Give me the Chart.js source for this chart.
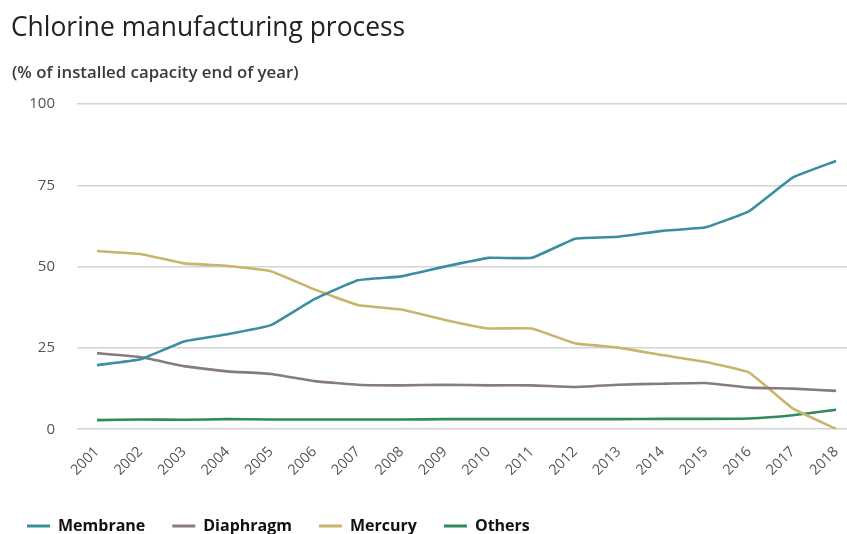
<!DOCTYPE html>
<html>
<head>
<meta charset="utf-8">
<script src="https://cdn.jsdelivr.net/npm/chart.js@4/dist/chart.umd.min.js"></script>
<style>
  html, body { margin: 0; padding: 0; background: #fff; }
  #wrap { position: relative; width: 847px; height: 534px; overflow: hidden; }
  #title { position: absolute; left: 11px; top: 8px; font-family: "Open Sans", sans-serif; font-size: 26.4px; color: #222; white-space: nowrap; line-height: 36px; }
  #subtitle { position: absolute; left: 12px; top: 60px; font-family: "Open Sans", sans-serif; font-size: 16.8px; font-weight: 600; color: #3a3a3a; white-space: nowrap; line-height: 24px; }
  canvas { position: absolute; left: 0; top: 0; }
</style>
</head>
<body>
<div id="wrap">
  <canvas id="c" width="847" height="534"></canvas>
  <div id="title">Chlorine manufacturing process</div>
  <div id="subtitle">(% of installed capacity end of year)</div>
</div>
<script>
const years = [2001,2002,2003,2004,2005,2006,2007,2008,2009,2010,2011,2012,2013,2014,2015,2016,2017,2018];
const membrane  = [19.7,21.5,27.0,29.2,32.0,40.0,45.8,47.0,50.0,52.7,52.7,58.6,59.2,61.0,62.1,67.1,77.4,82.5];
const diaphragm = [23.4,22.2,19.4,17.8,17.0,14.8,13.7,13.5,13.7,13.5,13.5,13.0,13.7,14.0,14.2,12.8,12.5,11.8];
const mercury   = [54.8,53.9,51.0,50.2,48.6,43.0,38.2,36.8,33.6,31.0,31.0,26.4,25.1,22.8,20.7,17.4,6.4,0.1];
const others    = [2.8,3.0,2.9,3.1,3.0,3.0,3.0,3.0,3.1,3.1,3.1,3.1,3.1,3.2,3.2,3.3,4.3,6.0];
const yTicks = [0,25,50,75,100];
const seriesNames = ["Membrane","Diaphragm","Mercury","Others"];
const seriesColors = ["#3b8e9f","#877b7b","#c9b46c","#2f8a5c"];

const toXY = arr => arr.map((v,i) => ({x: years[i], y: v}));
const allData = [membrane, diaphragm, mercury, others];

new Chart(document.getElementById('c'), {
  type: 'line',
  data: {
    datasets: allData.map((d,i) => ({
      label: seriesNames[i],
      data: toXY(d),
      borderColor: seriesColors[i],
      backgroundColor: seriesColors[i],
      borderWidth: 2.6,
      pointRadius: 0,
      tension: 0.1,
      fill: false
    }))
  },
  options: {
    responsive: false,
    animation: false,
    layout: { padding: { top: 104, left: 0, right: 0, bottom: -10 } },
    scales: {
      x: {
        type: 'linear',
        min: 2000.54,
        max: 2018.25,
        afterBuildTicks: s => { s.ticks = years.map(v => ({value: v})); },
        afterFit: s => { s.paddingLeft = 0; s.paddingRight = 0; s.height = s.height - 2; },
        grid: { display: false, drawTicks: false },
        border: { display: false },
        ticks: {
          callback: v => String(v),
          minRotation: 45, maxRotation: 45,
          padding: 14,
          color: '#555',
          font: { family: 'Open Sans', size: 14.5 }
        }
      },
      y: {
        min: 0, max: 100,
        afterBuildTicks: s => { s.ticks = yTicks.map(v => ({value: v})); },
        afterFit: s => { s.width = 77; },
        grid: { color: '#d4d4d4', lineWidth: 1.5, drawTicks: false },
        border: { display: false },
        ticks: {
          padding: 22,
          color: '#555',
          font: { family: 'Open Sans', size: 15 }
        }
      }
    },
    plugins: {
      legend: {
        position: 'bottom',
        align: 'start',
        labels: {
          usePointStyle: true,
          pointStyle: 'line',
          pointStyleWidth: 23,
          boxHeight: 3,
          padding: 27,
          color: '#111',
          font: { family: 'Open Sans', size: 16, weight: 'bold' },
          generateLabels: chart => chart.data.datasets.map((ds, i) => ({
            text: ds.label,
            strokeStyle: ds.borderColor,
            fillStyle: ds.borderColor,
            lineWidth: 3,
            pointStyle: 'line',
            datasetIndex: i,
            hidden: false,
            fontColor: '#111'
          }))
        }
      },
      tooltip: { enabled: false }
    }
  }
});
</script>
</body>
</html>
